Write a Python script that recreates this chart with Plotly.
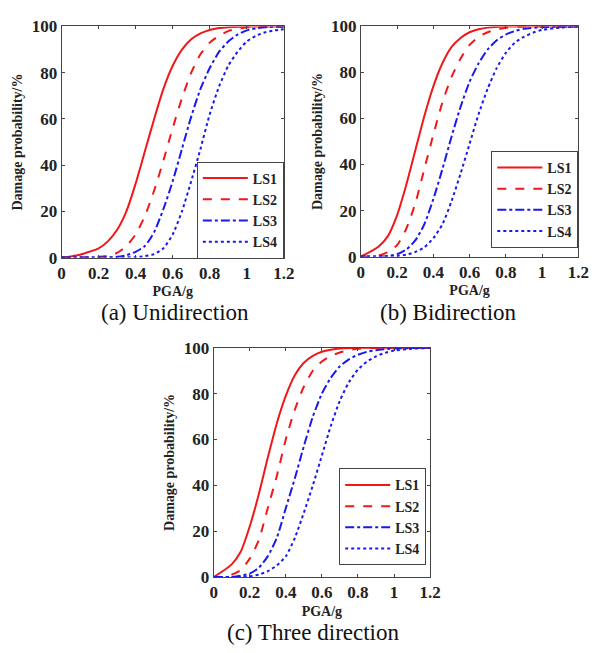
import plotly.graph_objects as go

# ---------------- data ----------------
# (a) Unidirection
a_ls1_x = [0, 0.05, 0.1, 0.15, 0.2, 0.25, 0.3, 0.35, 0.4, 0.45, 0.5, 0.55, 0.6, 0.65, 0.7, 0.75, 0.8, 0.85, 0.9, 1.0, 1.1, 1.2]
a_ls1_y = [0, 0.5, 1.2, 2.5, 4, 7, 12, 20, 32, 46, 60, 73, 83, 90, 94.5, 97, 98.5, 99.3, 99.7, 100, 100, 100]
a_ls2_x = [0, 0.1, 0.2, 0.25, 0.3, 0.35, 0.4, 0.45, 0.5, 0.55, 0.6, 0.65, 0.7, 0.75, 0.8, 0.85, 0.9, 0.95, 1.0, 1.1, 1.2]
a_ls2_y = [0, 0, 0.3, 0.8, 2, 5, 10, 18, 29, 42, 56, 69, 80, 88, 93, 96, 98, 99, 99.6, 100, 100]
a_ls3_x = [0, 0.2, 0.3, 0.35, 0.4, 0.45, 0.5, 0.55, 0.6, 0.65, 0.7, 0.75, 0.8, 0.85, 0.9, 0.95, 1.0, 1.05, 1.1, 1.2]
a_ls3_y = [0, 0, 0.3, 1, 2.5, 5, 11, 21, 33, 47, 61, 73, 82, 89, 93.5, 96.5, 98.3, 99.2, 99.7, 100]
a_ls4_x = [0, 0.3, 0.4, 0.45, 0.5, 0.55, 0.6, 0.65, 0.7, 0.75, 0.8, 0.85, 0.9, 0.95, 1.0, 1.05, 1.1, 1.15, 1.2]
a_ls4_y = [0, 0, 0.2, 0.6, 1.5, 4, 10, 20, 33, 47, 62, 74, 83, 89, 93.5, 96, 97.5, 98.3, 98.8]

# (b) Bidirection
b_ls1_x = [0, 0.05, 0.1, 0.15, 0.2, 0.25, 0.3, 0.35, 0.4, 0.45, 0.5, 0.55, 0.6, 0.65, 0.7, 0.8, 1.2]
b_ls1_y = [0, 2, 4.5, 9, 18, 31, 46, 61, 74, 84, 91, 95, 97.5, 98.8, 99.5, 100, 100]
b_ls2_x = [0, 0.05, 0.1, 0.15, 0.2, 0.25, 0.3, 0.35, 0.4, 0.45, 0.5, 0.55, 0.6, 0.65, 0.7, 0.75, 0.8, 0.9, 1.2]
b_ls2_y = [0, 0, 0.5, 2, 5, 12, 23, 38, 53, 67, 78, 86, 92, 95.5, 97.5, 98.7, 99.4, 100, 100]
b_ls3_x = [0, 0.1, 0.15, 0.2, 0.25, 0.3, 0.35, 0.4, 0.45, 0.5, 0.55, 0.6, 0.65, 0.7, 0.75, 0.8, 0.85, 0.9, 1.0, 1.2]
b_ls3_y = [0, 0, 0.3, 1, 3, 7, 14, 25, 38, 52, 65, 76, 84, 90, 94, 96.5, 98, 99, 99.7, 100]
b_ls4_x = [0, 0.15, 0.2, 0.25, 0.3, 0.35, 0.4, 0.45, 0.5, 0.55, 0.6, 0.65, 0.7, 0.75, 0.8, 0.85, 0.9, 0.95, 1.0, 1.1, 1.2]
b_ls4_y = [0, 0, 0.2, 0.8, 2, 4, 8, 14, 24, 36, 49, 62, 73, 82, 88.5, 93, 95.5, 97.3, 98.5, 99.5, 100]

# (c) Three direction
c_ls1_x = [0, 0.05, 0.1, 0.15, 0.2, 0.25, 0.3, 0.35, 0.4, 0.45, 0.5, 0.55, 0.6, 0.65, 0.7, 0.8, 1.2]
c_ls1_y = [0, 2.5, 5.5, 11, 22, 36, 52, 67, 79, 88, 93.5, 96.5, 98.3, 99.2, 99.7, 100, 100]
c_ls2_x = [0, 0.05, 0.1, 0.15, 0.2, 0.25, 0.3, 0.35, 0.4, 0.45, 0.5, 0.55, 0.6, 0.65, 0.7, 0.75, 0.8, 0.9, 1.2]
c_ls2_y = [0, 0, 1, 3, 8, 16, 30, 44, 60, 73, 83, 90, 94, 96.5, 98, 99, 99.6, 100, 100]
c_ls3_x = [0, 0.1, 0.15, 0.2, 0.25, 0.3, 0.35, 0.4, 0.45, 0.5, 0.55, 0.6, 0.65, 0.7, 0.75, 0.8, 0.85, 0.9, 1.0, 1.2]
c_ls3_y = [0, 0, 0.5, 1.5, 4, 9, 17, 30, 43, 57, 70, 80, 87, 92, 95, 97, 98.3, 99, 99.7, 100]
c_ls4_x = [0, 0.15, 0.2, 0.25, 0.3, 0.35, 0.4, 0.45, 0.5, 0.55, 0.6, 0.65, 0.7, 0.75, 0.8, 0.85, 0.9, 0.95, 1.0, 1.1, 1.2]
c_ls4_y = [0, 0, 0.3, 1, 2.5, 5, 9, 17, 28, 40, 53, 66, 77, 85, 90.5, 94, 96.3, 97.8, 98.8, 99.6, 100]

series_names = ["LS1", "LS2", "LS3", "LS4"]
x_ticks = [0, 0.2, 0.4, 0.6, 0.8, 1, 1.2]
x_tick_text = ["0", "0.2", "0.4", "0.6", "0.8", "1", "1.2"]
y_ticks = [0, 20, 40, 60, 80, 100]
captions = ["(a) Unidirection", "(b) Bidirection", "(c) Three direction"]
x_title = "PGA/g"
y_title = "Damage probability/%"

# ---------------- styles ----------------
RED = "#f01818"
BLUE = "#1818f0"
styles = [(RED, "solid"), (RED, "dash"), (BLUE, "dashdot"), (BLUE, "dot")]
FONT = "Liberation Serif"
AXC = "#444"

panels = [
    ([(a_ls1_x, a_ls1_y), (a_ls2_x, a_ls2_y), (a_ls3_x, a_ls3_y), (a_ls4_x, a_ls4_y)], "x", "y", "legend"),
    ([(b_ls1_x, b_ls1_y), (b_ls2_x, b_ls2_y), (b_ls3_x, b_ls3_y), (b_ls4_x, b_ls4_y)], "x2", "y2", "legend2"),
    ([(c_ls1_x, c_ls1_y), (c_ls2_x, c_ls2_y), (c_ls3_x, c_ls3_y), (c_ls4_x, c_ls4_y)], "x3", "y3", "legend3"),
]

fig = go.Figure()
for data, xa, ya, lg in panels:
    for (xs, ys), name, (col, dash) in zip(data, series_names, styles):
        fig.add_trace(go.Scatter(
            x=xs, y=ys, mode="lines", name=name,
            line=dict(color=col, dash=dash, width=2, shape="spline", smoothing=0.6),
            xaxis=xa, yaxis=ya, legend=lg,
        ))

W, H = 601, 653
def px_x(p):
    return p / W
def px_y(p):
    return 1 - p / H

domains = [
    ((59, 287), (18, 256)),
    ((366, 589), (18, 255)),
    ((215, 437), (349, 585)),
]

tickfont = dict(family=FONT, size=17, color="#222", weight="bold")
titlefont = dict(family=FONT, size=14, color="#222", weight="bold")

layout = dict(
    width=W, height=H, margin=dict(l=0, r=0, t=0, b=0),
    paper_bgcolor="white", plot_bgcolor="white",
    showlegend=True,
)

for i, ((x0, x1), (y0, y1)) in enumerate(domains):
    sfx = "" if i == 0 else str(i + 1)
    layout["xaxis" + sfx] = dict(
        domain=[px_x(x0), px_x(x1)], range=[0, 1.2], anchor="y" + sfx,
        tickvals=x_ticks, ticktext=x_tick_text, ticks="inside", ticklen=3,
        tickcolor=AXC, showline=True, linecolor=AXC, linewidth=1, mirror="ticks",
        showgrid=False, zeroline=False, tickfont=tickfont,
        title=dict(text=x_title, font=titlefont, standoff=4),
    )
    layout["yaxis" + sfx] = dict(
        domain=[px_y(y1), px_y(y0)], range=[0, 100], anchor="x" + sfx,
        tickvals=y_ticks, ticks="inside", ticklen=3,
        tickcolor=AXC, showline=True, linecolor=AXC, linewidth=1, mirror="ticks",
        showgrid=False, zeroline=False, tickfont=tickfont,
        title=dict(text=y_title, font=titlefont, standoff=5),
    )

legfont = dict(family=FONT, size=14, color="#222", weight="bold")
def leg(xr, yb):
    return dict(x=px_x(xr), y=px_y(yb), xanchor="right", yanchor="bottom",
                bgcolor="white", bordercolor=AXC, borderwidth=1,
                font=legfont, tracegroupgap=0, itemwidth=45)

layout["legend"] = leg(287, 257)
layout["legend2"] = leg(589, 246)
layout["legend3"] = leg(433, 573)

fig.update_layout(**layout)

cap_font = dict(family=FONT, size=23, color="#111")
for txt, (cx, cy) in zip(captions, [(175, 313), (456, 313), (317, 642)]):
    fig.add_annotation(text=txt, x=px_x(cx), y=px_y(cy), xref="paper", yref="paper",
                       showarrow=False, font=cap_font, xanchor="center", yanchor="middle")

fig.write_html("out.html")
